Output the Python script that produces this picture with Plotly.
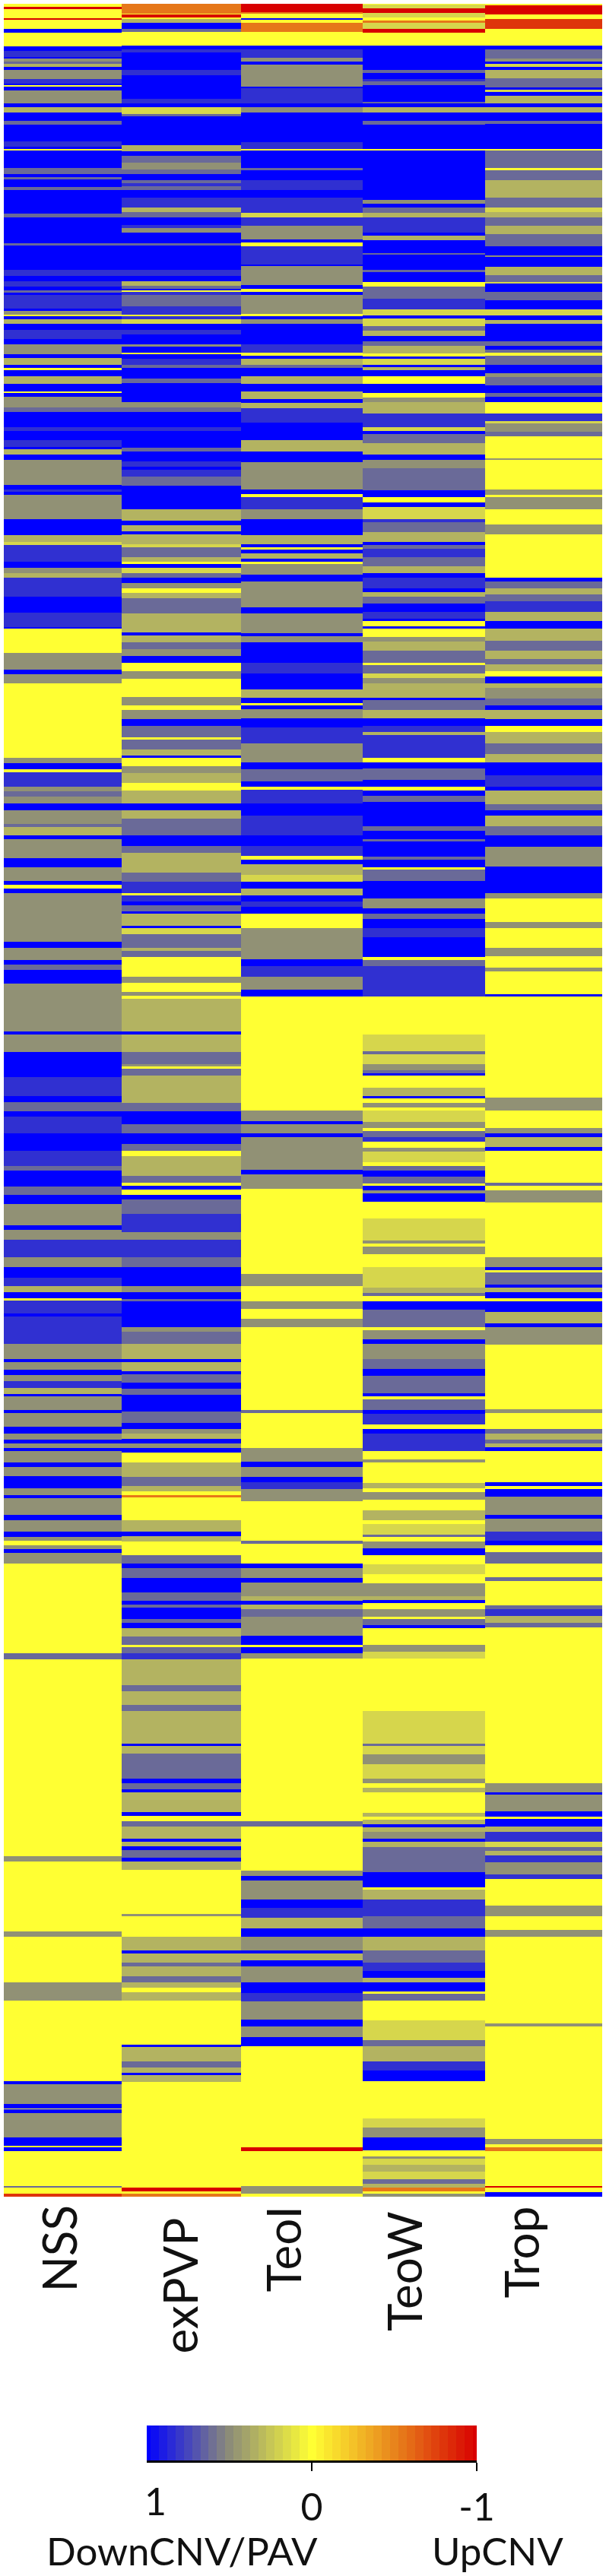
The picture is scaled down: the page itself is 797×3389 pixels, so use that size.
import numpy as np
import plotly.graph_objects as go

# Levels of the heat scale
B, M, S, G, O, L, Y, A, U, R = 1.0, 0.83, 0.62, 0.48, 0.33, 0.18, 0.0, -0.55, -0.8, -1.0

categories = ["NSS", "exPVP", "TeoI", "TeoW", "Trop"]
tick_values = [0, -1]
tick_labels = ["0", "-1"]
legend_ramp = [1.0, .95, .9, .85, .8, .75, .7, .65, .6, .55, .5, .45, .4, .35, .3, .25, .2, .15, .1, .05, 0.0,
               -.05, -.1, -.15, -.2, -.25, -.3, -.35, -.4, -.45, -.5, -.55, -.6, -.65, -.7, -.75, -.8, -.85, -.9, -.95, -1.0]

# Each list: (last row of the run, level); one list per stretch of 1568 rows
NSS_a = [(20,Y),(26,R),(53,Y),(58,R),(86,Y),(96,B),(137,Y),(150,B),(168,M),(172,B),(182,G),(188,S),(197,O),(205,B),(232,G),(247,M),(250,B),(256,Y),(266,B),(305,G),(316,B),(332,O),(357,B),(368,S),(416,B),(432,M),(438,B),(443,Y),(495,B),(512,S),(522,B),(528,S),(550,B),(560,S),(630,B),(640,S),(716,B),(724,S),(795,B),(812,M),(828,B),(845,M),(855,B),(862,S),(870,B),(910,M),(916,B),(928,G),(932,Y),(940,B),(955,O),(972,B),(1000,M),(1015,B),(1045,G),(1055,B),(1075,O),(1085,B),(1092,Y),(1108,B),(1132,O),(1153,B),(1158,Y),(1170,B),(1200,G),(1215,S),(1260,B),(1270,M),(1298,B),(1318,M),(1325,B),(1340,O),(1356,B),(1430,G),(1442,B),(1450,M),(1458,B),(1530,G),(1568,B)]
NSS_b = [(10,B),(30,O),(38,L),(88,M),(105,B),(122,G),(135,O),(190,M),(238,B),(280,M),(285,B),(357,Y),(405,G),(420,B),(445,G),(665,Y),(682,G),(700,B),(708,Y),(750,M),(765,G),(780,S),(800,G),(820,B),(860,G),(870,S),(895,O),(905,B),(962,G),(988,B),(1028,G),(1040,B),(1050,Y),(1065,B),(1208,G),(1225,B),(1262,G),(1275,B),(1290,S),(1330,B),(1472,G),(1482,B),(1532,G),(1568,B)]
NSS_c = [(38,B),(95,M),(112,B),(140,S),(155,B),(205,M),(255,B),(300,M),(315,S),(362,B),(385,S),(412,B),(475,G),(488,B),(518,G),(570,M),(598,G),(630,B),(655,M),(672,O),(690,B),(698,Y),(735,M),(745,B),(825,M),(870,G),(878,B),(902,G),(918,B),(935,G),(955,M),(972,O),(980,B),(1020,G),(1030,B),(1070,G),(1090,B),(1108,G),(1118,B),(1132,G),(1142,B),(1175,G),(1188,B),(1215,G),(1250,B),(1270,G),(1280,B),(1330,G),(1345,B),(1378,G),(1395,B),(1405,G),(1418,Y),(1430,G),(1442,B),(1472,G),(1568,Y)]
NSS_d = [(170,Y),(188,S),(768,Y),(782,G),(988,Y),(1005,G),(1140,Y),(1192,G),(1430,Y),(1440,B),(1498,G),(1510,B),(1514,Y),(1525,B),(1568,G)]
NSS_e = [(29,G),(52,B),(57,Y),(69,B),(172,Y),(177,S),(193,Y),(203,U)]

exPVP_a = [(40,A),(43,Y),(52,R),(56,Y),(68,O),(85,B),(95,S),(135,Y),(145,B),(155,M),(205,B),(222,M),(290,B),(305,M),(316,B),(335,L),(342,S),(428,B),(445,O),(458,B),(480,S),(500,G),(512,S),(530,B),(540,S),(548,M),(560,S),(582,B),(612,M),(625,O),(640,S),(662,B),(672,M),(685,G),(716,B),(724,S),(795,B),(812,M),(828,B),(843,O),(852,S),(855,B),(860,Y),(870,M),(903,S),(928,M),(932,Y),(940,M),(955,L),(972,B),(985,M),(1015,B),(1022,G),(1040,B),(1045,Y),(1058,B),(1075,M),(1085,S),(1115,B),(1130,S),(1185,B),(1200,G),(1215,S),(1260,B),(1270,M),(1320,B),(1330,S),(1360,B),(1375,M),(1385,B),(1405,M),(1432,S),(1500,B),(1535,O),(1548,B),(1565,O),(1568,B)]
exPVP_b = [(8,B),(35,O),(45,L),(75,S),(88,O),(95,Y),(105,B),(122,L),(135,S),(150,B),(165,G),(180,Y),(195,O),(240,S),(295,O),(305,B),(325,O),(345,S),(365,G),(385,B),(410,Y),(432,G),(487,Y),(510,G),(525,Y),(552,G),(572,B),(605,S),(612,Y),(640,S),(660,O),(665,B),(690,Y),(710,G),(740,O),(762,Y),(800,O),(820,B),(845,O),(895,S),(925,B),(945,S),(1005,O),(1030,S),(1065,M),(1072,Y),(1090,M),(1100,B),(1118,S),(1125,B),(1160,O),(1168,B),(1185,L),(1225,S),(1235,O),(1252,S),(1312,Y),(1328,G),(1355,Y),(1368,G),(1375,Y),(1472,O),(1482,B),(1532,O),(1568,S)]
exPVP_c = [(8,G),(15,Y),(35,S),(115,O),(140,S),(178,B),(205,S),(235,B),(255,S),(272,Y),(330,O),(350,S),(358,Y),(370,B),(385,Y),(400,B),(442,S),(495,M),(518,G),(570,M),(598,S),(655,B),(672,G),(692,B),(700,S),(775,B),(790,G),(825,S),(870,O),(878,B),(905,O),(915,B),(940,S),(958,B),(975,S),(1025,B),(1058,S),(1075,B),(1090,G),(1105,O),(1118,B),(1132,G),(1145,B),(1175,Y),(1218,O),(1245,S),(1260,O),(1270,Y),(1278,A),(1345,Y),(1378,O),(1392,B),(1408,O),(1448,Y),(1472,S),(1485,B),(1515,S),(1558,B),(1568,S)]
exPVP_d = [(15,S),(25,B),(35,S),(68,B),(80,S),(95,B),(120,O),(145,S),(152,Y),(170,S),(188,M),(262,O),(280,S),(322,O),(340,S),(435,O),(442,B),(465,O),(538,S),(552,B),(570,S),(580,B),(638,O),(648,B),(665,Y),(680,S),(715,O),(725,B),(738,O),(750,B),(772,S),(782,B),(808,O),(938,Y),(944,G),(1005,Y),(1045,O),(1055,B),(1080,O),(1092,S),(1122,O),(1140,S),(1155,O),(1168,Y),(1192,O),(1322,Y),(1330,B),(1372,O),(1390,S),(1405,O),(1412,B),(1432,O),(1568,Y)]
exPVP_e = [(177,Y),(187,R),(195,Y),(203,A)]

TeoI_a = [(35,R),(40,A),(54,Y),(58,B),(68,Y),(95,A),(135,Y),(145,B),(170,M),(182,G),(190,B),(255,G),(260,B),(305,M),(316,B),(332,G),(418,B),(438,M),(443,Y),(495,B),(502,S),(530,B),(560,M),(582,B),(628,M),(640,L),(665,M),(705,G),(715,B),(725,Y),(780,M),(785,B),(840,G),(852,B),(860,Y),(870,B),(925,G),(932,Y),(940,B),(955,G),(1015,B),(1040,M),(1048,Y),(1058,B),(1075,O),(1085,S),(1108,B),(1132,O),(1153,B),(1175,O),(1187,B),(1202,O),(1245,M),(1298,B),(1330,O),(1362,B),(1442,G),(1456,B),(1466,Y),(1500,M),(1530,G),(1568,B)]
TeoI_b = [(10,B),(35,O),(45,B),(52,Y),(62,B),(78,O),(88,B),(95,Y),(125,G),(145,B),(222,G),(240,B),(298,G),(308,B),(325,G),(385,B),(418,M),(465,B),(488,O),(505,B),(512,Y),(522,B),(550,G),(575,B),(622,M),(680,G),(700,B),(735,S),(750,B),(760,Y),(800,M),(835,B),(895,M),(925,B),(955,M),(965,Y),(980,B),(1010,O),(1030,L),(1050,B),(1072,O),(1090,B),(1105,M),(1125,B),(1168,Y),(1260,G),(1280,B),(1310,M),(1350,G),(1370,B),(1568,Y)]
TeoI_c = [(138,Y),(168,G),(178,B),(205,G),(215,B),(312,G),(325,B),(368,G),(620,Y),(655,G),(700,Y),(722,G),(752,Y),(775,G),(1020,Y),(1030,S),(1132,Y),(1172,G),(1188,B),(1218,G),(1232,B),(1252,M),(1288,G),(1405,Y),(1415,S),(1472,Y),(1485,B),(1515,G),(1528,B),(1568,G)]
TeoI_d = [(15,O),(25,B),(40,O),(62,S),(118,G),(145,B),(152,Y),(168,B),(185,G),(665,Y),(680,S),(810,Y),(825,G),(838,B),(895,G),(920,B),(948,M),(980,O),(1005,B),(1045,G),(1055,B),(1075,O),(1092,B),(1140,G),(1170,B),(1195,M),(1250,G),(1270,B),(1300,G),(1328,B),(1568,Y)]
TeoI_e = [(57,Y),(69,R),(172,Y),(193,G),(203,Y)]

TeoW_a = [(13,Y),(25,L),(38,R),(52,L),(60,Y),(68,A),(85,L),(97,R),(135,Y),(205,B),(215,S),(232,B),(240,M),(250,S),(300,B),(305,S),(316,B),(332,O),(357,B),(368,S),(438,B),(443,Y),(588,B),(600,G),(612,B),(628,S),(640,O),(685,M),(695,B),(708,O),(745,B),(750,S),(795,B),(802,S),(832,B),(845,Y),(880,S),(912,M),(930,L),(938,B),(960,L),(975,S),(990,O),(1005,B),(1020,S),(1042,O),(1050,Y),(1058,B),(1075,L),(1082,B),(1092,O),(1108,B),(1132,Y),(1158,B),(1172,Y),(1185,G),(1218,O),(1258,M),(1270,L),(1280,B),(1305,S),(1340,O),(1356,B),(1380,G),(1445,S),(1465,B),(1480,Y),(1495,B),(1530,L),(1540,M),(1568,S)]
TeoW_b = [(30,O),(38,B),(50,S),(75,M),(100,S),(122,O),(135,B),(165,M),(178,B),(190,O),(210,S),(235,B),(255,M),(262,B),(278,Y),(285,B),(310,Y),(322,G),(350,O),(385,S),(392,Y),(418,S),(430,L),(445,G),(488,O),(495,B),(525,S),(550,O),(572,B),(590,M),(598,O),(665,M),(680,Y),(698,B),(730,S),(750,B),(762,Y),(778,B),(795,S),(868,B),(880,S),(905,B),(912,S),(958,B),(965,S),(988,B),(994,Y),(1028,S),(1080,B),(1110,G),(1125,B),(1140,S),(1168,B),(1195,M),(1252,B),(1262,Y),(1280,S),(1370,M),(1482,Y),(1530,L),(1540,S),(1568,L)]
TeoW_c = [(18,G),(28,S),(35,B),(70,Y),(95,O),(102,B),(115,Y),(128,G),(138,Y),(170,L),(188,G),(198,Y),(215,S),(230,M),(248,Y),(258,G),(290,L),(300,Y),(315,S),(332,B),(352,S),(358,Y),(372,B),(382,G),(405,B),(455,Y),(520,L),(530,G),(538,Y),(560,G),(598,Y),(660,L),(675,O),(685,S),(700,Y),(725,B),(775,S),(785,Y),(812,G),(825,B),(870,G),(900,S),(920,B),(970,S),(980,B),(988,Y),(1020,S),(1032,B),(1062,M),(1075,Y),(1090,B),(1140,M),(1165,Y),(1175,G),(1235,Y),(1250,O),(1262,Y),(1285,G),(1315,Y),(1345,O),(1355,Y),(1388,L),(1395,S),(1408,Y),(1428,G),(1448,B),(1475,Y),(1505,L),(1530,Y),(1568,G)]
TeoW_d = [(12,O),(22,B),(38,Y),(62,G),(68,Y),(85,S),(95,B),(145,Y),(165,G),(185,L),(340,Y),(435,L),(442,S),(468,L),(495,G),(538,L),(552,G),(565,Y),(580,O),(640,Y),(650,O),(660,Y),(672,O),(682,B),(695,O),(715,G),(725,B),(740,O),(815,S),(860,B),(865,Y),(895,O),(945,M),(980,S),(1005,B),(1045,O),(1080,S),(1105,M),(1125,B),(1140,O),(1165,B),(1172,Y),(1192,S),(1252,Y),(1310,L),(1328,S),(1372,O),(1400,M),(1430,B),(1540,Y),(1568,L)]
TeoW_e = [(29,G),(67,B),(84,Y),(91,G),(109,L),(130,O),(151,L),(164,S),(175,O),(187,A),(195,Y),(203,G)]

Trop_a = [(15,Y),(42,R),(55,Y),(85,U),(135,Y),(145,B),(172,S),(182,G),(187,B),(197,L),(205,B),(230,O),(258,S),(265,B),(272,L),(282,B),(305,O),(316,B),(332,O),(357,B),(366,S),(438,B),(443,Y),(495,S),(502,Y),(530,S),(582,O),(612,S),(625,L),(640,O),(665,S),(690,O),(725,S),(752,B),(758,G),(786,B),(810,O),(830,S),(836,L),(860,B),(885,S),(912,B),(930,L),(942,B),(955,O),(1005,B),(1020,S),(1030,B),(1040,S),(1048,Y),(1075,S),(1100,B),(1110,G),(1135,S),(1158,B),(1170,S),(1185,B),(1218,Y),(1240,M),(1248,L),(1272,G),(1285,S),(1350,Y),(1356,G),(1442,Y),(1458,G),(1465,Y),(1500,G),(1545,Y),(1568,G)]
Trop_b = [(8,G),(135,Y),(145,B),(165,S),(185,O),(205,S),(235,M),(262,O),(285,B),(320,O),(350,S),(375,O),(390,S),(410,O),(425,Y),(445,B),(460,O),(490,G),(512,S),(525,B),(552,O),(572,B),(590,Y),(622,O),(655,S),(680,O),(718,B),(750,M),(762,B),(802,O),(820,S),(835,B),(868,O),(895,S),(928,B),(985,G),(1065,B),(1080,G),(1150,Y),(1168,G),(1225,Y),(1250,G),(1285,Y),(1295,G),(1362,Y),(1370,B),(1568,Y)]
Trop_c = [(100,Y),(138,G),(188,Y),(205,G),(215,B),(245,O),(255,B),(350,Y),(358,S),(372,Y),(408,G),(570,Y),(598,G),(608,B),(615,Y),(650,S),(660,B),(672,O),(690,B),(700,Y),(732,B),(765,O),(775,B),(828,G),(1018,Y),(1030,G),(1075,Y),(1090,S),(1108,O),(1118,S),(1130,O),(1142,B),(1232,Y),(1245,B),(1252,Y),(1275,B),(1330,G),(1340,B),(1378,G),(1405,M),(1418,B),(1440,Y),(1472,S),(1512,Y),(1525,S),(1568,Y)]
Trop_d = [(28,Y),(38,S),(60,M),(80,O),(92,S),(552,Y),(578,G),(586,B),(635,G),(650,B),(658,Y),(680,B),(695,O),(725,M),(740,L),(752,S),(765,O),(785,M),(822,G),(835,M),(912,Y),(945,G),(985,Y),(1005,G),(1260,Y),(1270,G),(1568,Y)]
Trop_e = [(32,Y),(49,G),(57,Y),(69,A),(172,Y),(177,R),(189,Y),(203,B)]

columns = [
    [NSS_a, NSS_b, NSS_c, NSS_d, NSS_e],
    [exPVP_a, exPVP_b, exPVP_c, exPVP_d, exPVP_e],
    [TeoI_a, TeoI_b, TeoI_c, TeoI_d, TeoI_e],
    [TeoW_a, TeoW_b, TeoW_c, TeoW_d, TeoW_e],
    [Trop_a, Trop_b, Trop_c, Trop_d, Trop_e],
]

FIRST_ROW, STRETCH, LAST_ROW = 11, 1568, 4 * 1568 + 203


def expand(stretches):
    out = np.zeros(LAST_ROW)
    for k, runs in enumerate(stretches):
        start = k * STRETCH
        for end, level in runs:
            stop = k * STRETCH + end
            out[start:stop] = level
            start = stop
    return out[FIRST_ROW:]


z = np.column_stack([expand(c) for c in columns]).tolist()
rows = list(range(FIRST_ROW, LAST_ROW))

W, H = 797, 3389
FONT = "Lato"
column_edges = [5, 160, 317, 477, 638, 792]

scale = [
    [0.00, "#d80000"],
    [0.25, "#e8841c"],
    [0.50, "#ffff33"],
    [0.75, "#8c8c78"],
    [1.00, "#0000ff"],
]

fig = go.Figure()
fig.add_trace(go.Heatmap(
    z=z, x=column_edges, y=rows, colorscale=scale, zmin=-1, zmax=1,
    showscale=False, xaxis="x", yaxis="y", hoverinfo="skip",
))
fig.add_trace(go.Heatmap(
    z=[legend_ramp, legend_ramp], x=legend_ramp, y=[0, 1], colorscale=scale, zmin=-1, zmax=1,
    showscale=False, xaxis="x2", yaxis="y2", hoverinfo="skip",
))


def label_y(px):
    return 1 - px / H


label_x = [76, 235, 371, 531, 684]
label_top = [2899, 2916, 2901, 2907, 2901]
annotations = [
    dict(text=c, x=lx / W, y=label_y(ly), xref="paper", yref="paper", textangle=-90,
         xanchor="center", yanchor="top", showarrow=False,
         font=dict(family=FONT, size=62, color="#111111"))
    for c, lx, ly in zip(categories, label_x, label_top)
]
annotations.append(dict(text="1", x=1, xref="x2", xshift=11, y=label_y(3290), yref="paper",
                        xanchor="center", yanchor="middle", showarrow=False,
                        font=dict(family=FONT, size=50, color="#111111")))
annotations.append(dict(text="DownCNV/PAV", x=239 / W, y=label_y(3355), xref="paper", yref="paper",
                        xanchor="center", yanchor="middle", showarrow=False,
                        font=dict(family=FONT, size=51, color="#111111")))
annotations.append(dict(text="UpCNV", x=654 / W, y=label_y(3355), xref="paper", yref="paper",
                        xanchor="center", yanchor="middle", showarrow=False,
                        font=dict(family=FONT, size=51, color="#111111")))

fig.update_layout(
    width=W, height=H, autosize=False,
    margin=dict(l=0, r=0, t=0, b=0, pad=0, autoexpand=False),
    paper_bgcolor="white", plot_bgcolor="white", showlegend=False,
    annotations=annotations,
    xaxis=dict(domain=[0, 1], range=[0, W], visible=False, fixedrange=True, automargin=False),
    yaxis=dict(domain=[1 - 2890 / H, 1 - 5 / H], range=[LAST_ROW - 0.5, FIRST_ROW - 0.5], visible=False,
               fixedrange=True, automargin=False),
    xaxis2=dict(domain=[193 / W, 627 / W], range=[1, -1], anchor="y2", side="bottom", automargin=False,
                showline=True, linecolor="black", linewidth=3, ticks="outside", ticklen=11, tickwidth=2,
                tickcolor="black", tickvals=tick_values, ticktext=tick_labels, showgrid=False, zeroline=False,
                ticklabelstandoff=5, tickfont=dict(family=FONT, size=50, color="#111111"), fixedrange=True),
    yaxis2=dict(domain=[1 - 3237 / H, 1 - 3191 / H], range=[-0.5, 1.5], anchor="x2", visible=False,
                fixedrange=True, automargin=False),
)

fig.write_html("out.html", config={"displayModeBar": False},
               post_script="document.body.style.margin='0';")
